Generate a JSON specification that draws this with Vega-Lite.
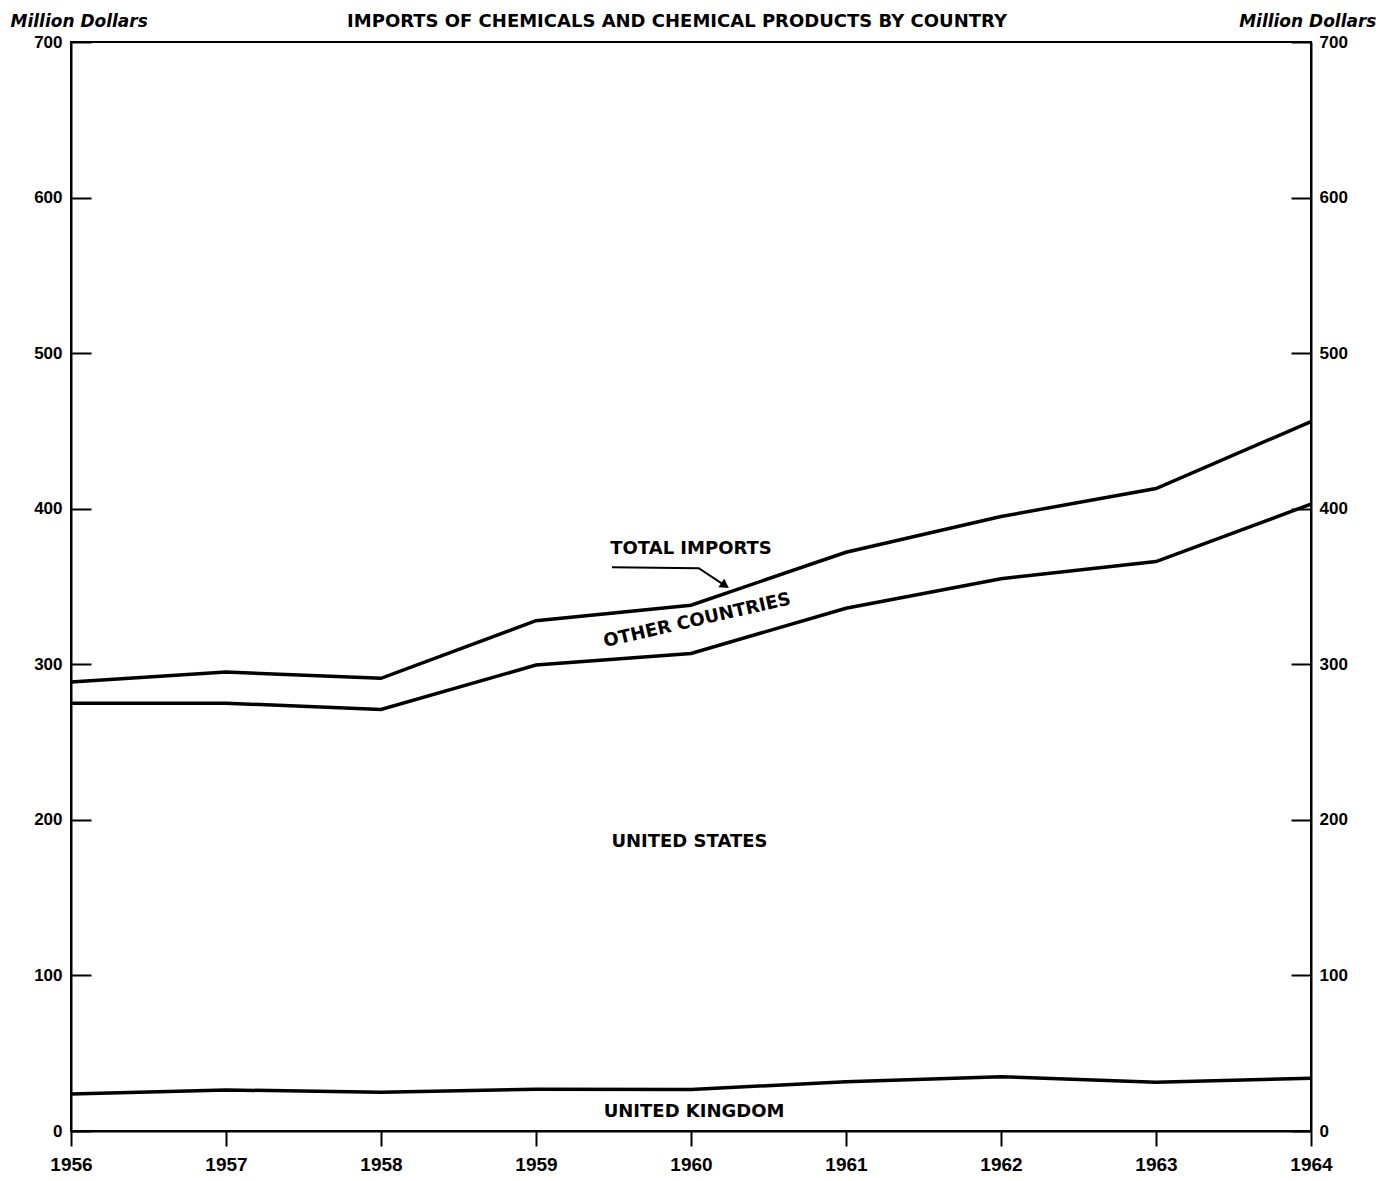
{
  "$schema": "https://vega.github.io/schema/vega-lite/v6.json",
  "width": 1240,
  "height": 1089,
  "autosize": {"type": "none"},
  "padding": {"left": 71, "top": 42, "right": 75, "bottom": 50},
  "background": "white",
  "title": {
    "text": "IMPORTS OF CHEMICALS AND CHEMICAL PRODUCTS BY COUNTRY",
    "font": "DejaVu Sans",
    "fontSize": 18,
    "fontWeight": "bold",
    "color": "black",
    "anchor": "middle",
    "baseline": "bottom",
    "offset": -37,
    "dx": -14
  },
  "config": {
    "view": {"stroke": "black", "strokeWidth": 2},
    "axis": {
      "domainColor": "black",
      "domainWidth": 2,
      "tickColor": "black",
      "tickWidth": 2,
      "labelColor": "black",
      "titleColor": "black",
      "grid": false
    }
  },
  "datasets": {
    "lines": [
      {"year": 1956, "series": "Total imports", "value": 288.6},
      {"year": 1957, "series": "Total imports", "value": 295},
      {"year": 1958, "series": "Total imports", "value": 291},
      {"year": 1959, "series": "Total imports", "value": 328},
      {"year": 1960, "series": "Total imports", "value": 338},
      {"year": 1961, "series": "Total imports", "value": 372},
      {"year": 1962, "series": "Total imports", "value": 395},
      {"year": 1963, "series": "Total imports", "value": 413},
      {"year": 1964, "series": "Total imports", "value": 456},
      {"year": 1956, "series": "United Kingdom + United States", "value": 275},
      {"year": 1957, "series": "United Kingdom + United States", "value": 275},
      {"year": 1958, "series": "United Kingdom + United States", "value": 271},
      {"year": 1959, "series": "United Kingdom + United States", "value": 299.5},
      {"year": 1960, "series": "United Kingdom + United States", "value": 307},
      {"year": 1961, "series": "United Kingdom + United States", "value": 336},
      {"year": 1962, "series": "United Kingdom + United States", "value": 355},
      {"year": 1963, "series": "United Kingdom + United States", "value": 366},
      {"year": 1964, "series": "United Kingdom + United States", "value": 403},
      {"year": 1956, "series": "United Kingdom", "value": 23.8},
      {"year": 1957, "series": "United Kingdom", "value": 26.4},
      {"year": 1958, "series": "United Kingdom", "value": 24.9},
      {"year": 1959, "series": "United Kingdom", "value": 26.9},
      {"year": 1960, "series": "United Kingdom", "value": 26.7},
      {"year": 1961, "series": "United Kingdom", "value": 31.7},
      {"year": 1962, "series": "United Kingdom", "value": 34.9},
      {"year": 1963, "series": "United Kingdom", "value": 31.4},
      {"year": 1964, "series": "United Kingdom", "value": 33.9}
    ],
    "labels": [
      {"label": "TOTAL IMPORTS", "year": 1960.0, "value": 374},
      {"label": "UNITED STATES", "year": 1959.99, "value": 186},
      {"label": "UNITED KINGDOM", "year": 1960.02, "value": 12.2}
    ],
    "rotated": [
      {"label": "OTHER COUNTRIES", "year": 1960.04, "value": 328}
    ],
    "arrow": [
      {"step": 1, "year": 1959.49, "value": 362.4},
      {"step": 2, "year": 1960.05, "value": 361.8},
      {"step": 3, "year": 1960.22, "value": 350.6}
    ],
    "arrowhead": [
      {"year": 1960.22, "value": 350.6}
    ]
  },
  "layer": [
    {
      "data": {"name": "lines"},
      "mark": {"type": "line", "color": "black", "strokeWidth": 3.5},
      "encoding": {
        "x": {
          "field": "year",
          "type": "quantitative",
          "scale": {"domain": [1956, 1964], "nice": false, "zero": false},
          "axis": {
            "orient": "bottom",
            "values": [1956, 1957, 1958, 1959, 1960, 1961, 1962, 1963, 1964],
            "format": "d",
            "title": null,
            "tickSize": 15,
            "labelPadding": 9,
            "labelFont": "Liberation Sans, sans-serif",
            "labelFontSize": 19,
            "labelFontWeight": "bold",
            "labelFlush": false,
            "labelOverlap": false
          }
        },
        "y": {
          "field": "value",
          "type": "quantitative",
          "scale": {"domain": [0, 700], "nice": false, "zero": true},
          "axis": {
            "orient": "left",
            "values": [0, 100, 200, 300, 400, 500, 600, 700],
            "title": "Million Dollars",
            "titleAngle": 0,
            "titleAlign": "left",
            "titleBaseline": "alphabetic",
            "titleX": -61,
            "titleY": -16,
            "titleFont": "DejaVu Sans",
            "titleFontSize": 17,
            "titleFontWeight": "bold",
            "titleFontStyle": "italic",
            "tickSize": -20,
            "labelPadding": 29,
            "labelFont": "Liberation Sans, sans-serif",
            "labelFontSize": 17,
            "labelFontWeight": "bold",
            "labelOverlap": false,
            "labelFlush": false
          }
        },
        "detail": {"field": "series", "type": "nominal"}
      }
    },
    {
      "data": {"name": "labels"},
      "mark": {"type": "text", "font": "DejaVu Sans", "fontSize": 18, "fontWeight": "bold", "color": "black", "align": "center", "baseline": "middle"},
      "encoding": {
        "x": {"field": "year", "type": "quantitative"},
        "y": {
          "field": "value",
          "type": "quantitative",
          "axis": {
            "orient": "right",
            "values": [0, 100, 200, 300, 400, 500, 600, 700],
            "title": "Million Dollars",
            "titleAngle": 0,
            "titleAlign": "right",
            "titleBaseline": "alphabetic",
            "titleX": 65,
            "titleY": -16,
            "titleFont": "DejaVu Sans",
            "titleFontSize": 17,
            "titleFontWeight": "bold",
            "titleFontStyle": "italic",
            "tickSize": -20,
            "labelPadding": 28,
            "labelFont": "Liberation Sans, sans-serif",
            "labelFontSize": 17,
            "labelFontWeight": "bold",
            "labelOverlap": false,
            "labelFlush": false
          }
        },
        "text": {"field": "label", "type": "nominal"}
      }
    },
    {
      "data": {"name": "rotated"},
      "mark": {"type": "text", "font": "DejaVu Sans", "fontSize": 18, "fontWeight": "bold", "color": "black", "align": "center", "baseline": "middle", "angle": -13},
      "encoding": {
        "x": {"field": "year", "type": "quantitative"},
        "y": {"field": "value", "type": "quantitative", "axis": null},
        "text": {"field": "label", "type": "nominal"}
      }
    },
    {
      "data": {"name": "arrow"},
      "mark": {"type": "line", "color": "black", "strokeWidth": 2},
      "encoding": {
        "x": {"field": "year", "type": "quantitative"},
        "y": {"field": "value", "type": "quantitative", "axis": null},
        "order": {"field": "step", "type": "quantitative"}
      }
    },
    {
      "data": {"name": "arrowhead"},
      "mark": {"type": "point", "shape": "triangle-right", "angle": 34, "size": 110, "filled": true, "color": "black", "opacity": 1},
      "encoding": {
        "x": {"field": "year", "type": "quantitative"},
        "y": {"field": "value", "type": "quantitative", "axis": null}
      }
    }
  ],
  "resolve": {"axis": {"y": "independent"}}
}
